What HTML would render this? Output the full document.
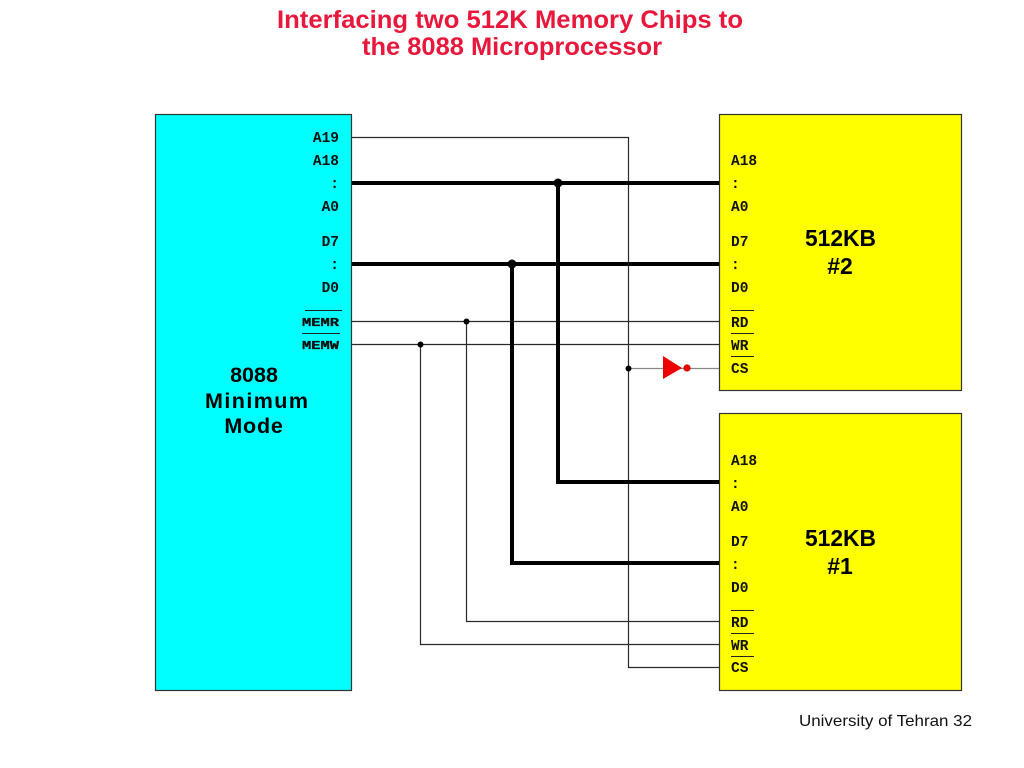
<!DOCTYPE html>
<html>
<head>
<meta charset="utf-8">
<style>
html,body{margin:0;padding:0;background:#fff;}
svg{display:block;}
.t{font-family:"Liberation Sans",Arial,sans-serif;font-weight:bold;}
.m{font-family:"Liberation Mono","Courier New",monospace;font-weight:bold;font-size:14.5px;fill:#111;}
</style>
</head>
<body>
<svg width="1024" height="768" viewBox="0 0 1024 768" xmlns="http://www.w3.org/2000/svg">
  <rect x="0" y="0" width="1024" height="768" fill="#fff"/>
  <!-- Title -->
  <text class="t" x="277" y="28" font-size="25" fill="#e8173c" textLength="466" lengthAdjust="spacingAndGlyphs">Interfacing two 512K Memory Chips to</text>
  <text class="t" x="362" y="55" font-size="25" fill="#e8173c" textLength="300" lengthAdjust="spacingAndGlyphs">the 8088 Microprocessor</text>

  <!-- Boxes -->
  <rect x="155.5" y="114.5" width="196" height="576" fill="#00ffff" stroke="#333" stroke-width="1.2"/>
  <rect x="719.5" y="114.5" width="242" height="276" fill="#ffff00" stroke="#333" stroke-width="1.2"/>
  <rect x="719.5" y="413.5" width="242" height="277" fill="#ffff00" stroke="#333" stroke-width="1.2"/>

  <!-- Thin wires -->
  <g fill="none" stroke="#2a2a2a" stroke-width="1.2">
    <polyline points="352,137.5 628.5,137.5 628.5,667.5 719,667.5"/>
    <line x1="352" y1="321.5" x2="719" y2="321.5"/>
    <line x1="352" y1="344.5" x2="719" y2="344.5"/>
    <polyline points="466.5,321.5 466.5,621.5 719,621.5"/>
    <polyline points="420.5,344.5 420.5,644.5 719,644.5"/>
  </g>
  <line x1="628" y1="368.5" x2="719" y2="368.5" stroke="#888" stroke-width="1.2"/>

  <!-- Thick buses -->
  <g fill="none" stroke="#000" stroke-width="4">
    <line x1="352" y1="183" x2="719" y2="183"/>
    <line x1="352" y1="264" x2="719" y2="264"/>
    <polyline points="558,183 558,482 719,482"/>
    <polyline points="512,264 512,563 719,563"/>
  </g>

  <!-- Junction dots -->
  <circle cx="558" cy="183" r="4.5" fill="#000"/>
  <circle cx="512" cy="264" r="4.5" fill="#000"/>
  <circle cx="466.5" cy="321.5" r="3" fill="#000"/>
  <circle cx="420.5" cy="344.5" r="3" fill="#000"/>
  <circle cx="628.5" cy="368.5" r="3" fill="#000"/>

  <!-- Inverter -->
  <polygon points="663,356 663,379 682,368" fill="#ee0000"/>
  <circle cx="687" cy="368" r="3.2" fill="#ee0000" stroke="#c00" stroke-width="0.8"/>

  <!-- 8088 pin labels -->
  <g class="m" text-anchor="end">
    <text x="339" y="142">A19</text>
    <text x="339" y="165">A18</text>
    <text x="339" y="188">:</text>
    <text x="339" y="211">A0</text>
    <text x="339" y="246">D7</text>
    <text x="339" y="269">:</text>
    <text x="339" y="292">D0</text>
  </g>
  <text x="302" y="326" font-family="Liberation Mono, monospace" font-weight="bold" font-size="11.5" fill="#111" stroke="#111" stroke-width="0.3" textLength="37" lengthAdjust="spacingAndGlyphs">MEMR</text>
  <text x="302" y="349" font-family="Liberation Mono, monospace" font-weight="bold" font-size="11.5" fill="#111" stroke="#111" stroke-width="0.3" textLength="37" lengthAdjust="spacingAndGlyphs">MEMW</text>
  <line x1="305" y1="310.5" x2="342" y2="310.5" stroke="#222" stroke-width="1"/>
  <line x1="302" y1="333.5" x2="340" y2="333.5" stroke="#222" stroke-width="1"/>

  <!-- Chip 2 labels -->
  <g class="m">
    <text x="731" y="165">A18</text>
    <text x="731" y="188">:</text>
    <text x="731" y="211">A0</text>
    <text x="731" y="246">D7</text>
    <text x="731" y="269">:</text>
    <text x="731" y="292">D0</text>
    <text x="731" y="327">RD</text>
    <text x="731" y="350">WR</text>
    <text x="731" y="373">CS</text>
  </g>
  <g stroke="#222" stroke-width="1">
    <line x1="731" y1="310.5" x2="754" y2="310.5"/>
    <line x1="731" y1="333.5" x2="754" y2="333.5"/>
    <line x1="731" y1="356.5" x2="754" y2="356.5"/>
  </g>

  <!-- Chip 1 labels -->
  <g class="m">
    <text x="731" y="465">A18</text>
    <text x="731" y="488">:</text>
    <text x="731" y="511">A0</text>
    <text x="731" y="546">D7</text>
    <text x="731" y="569">:</text>
    <text x="731" y="592">D0</text>
    <text x="731" y="627">RD</text>
    <text x="731" y="650">WR</text>
    <text x="731" y="672">CS</text>
  </g>
  <g stroke="#222" stroke-width="1">
    <line x1="731" y1="610.5" x2="754" y2="610.5"/>
    <line x1="731" y1="633.5" x2="754" y2="633.5"/>
    <line x1="731" y1="656.5" x2="754" y2="656.5"/>
  </g>

  <!-- Chip titles -->
  <text class="t" x="805" y="246" font-size="23" fill="#000" textLength="71" lengthAdjust="spacingAndGlyphs">512KB</text>
  <text class="t" x="840" y="274" font-size="23" fill="#000" text-anchor="middle">#2</text>
  <text class="t" x="805" y="546" font-size="23" fill="#000" textLength="71" lengthAdjust="spacingAndGlyphs">512KB</text>
  <text class="t" x="840" y="574" font-size="23" fill="#000" text-anchor="middle">#1</text>

  <!-- 8088 label -->
  <text class="t" x="254" y="382" font-size="21.5" fill="#000" text-anchor="middle">8088</text>
  <text class="t" x="205" y="408" font-size="21.5" fill="#000" textLength="103" lengthAdjust="spacing">Minimum</text>
  <text class="t" x="254" y="433" font-size="21.5" fill="#000" text-anchor="middle" letter-spacing="0.8">Mode</text>

  <!-- Footer -->
  <text x="799" y="726" font-family="Liberation Sans, Arial, sans-serif" font-size="16" fill="#111" textLength="173" lengthAdjust="spacingAndGlyphs">University of Tehran 32</text>
</svg>
</body>
</html>
